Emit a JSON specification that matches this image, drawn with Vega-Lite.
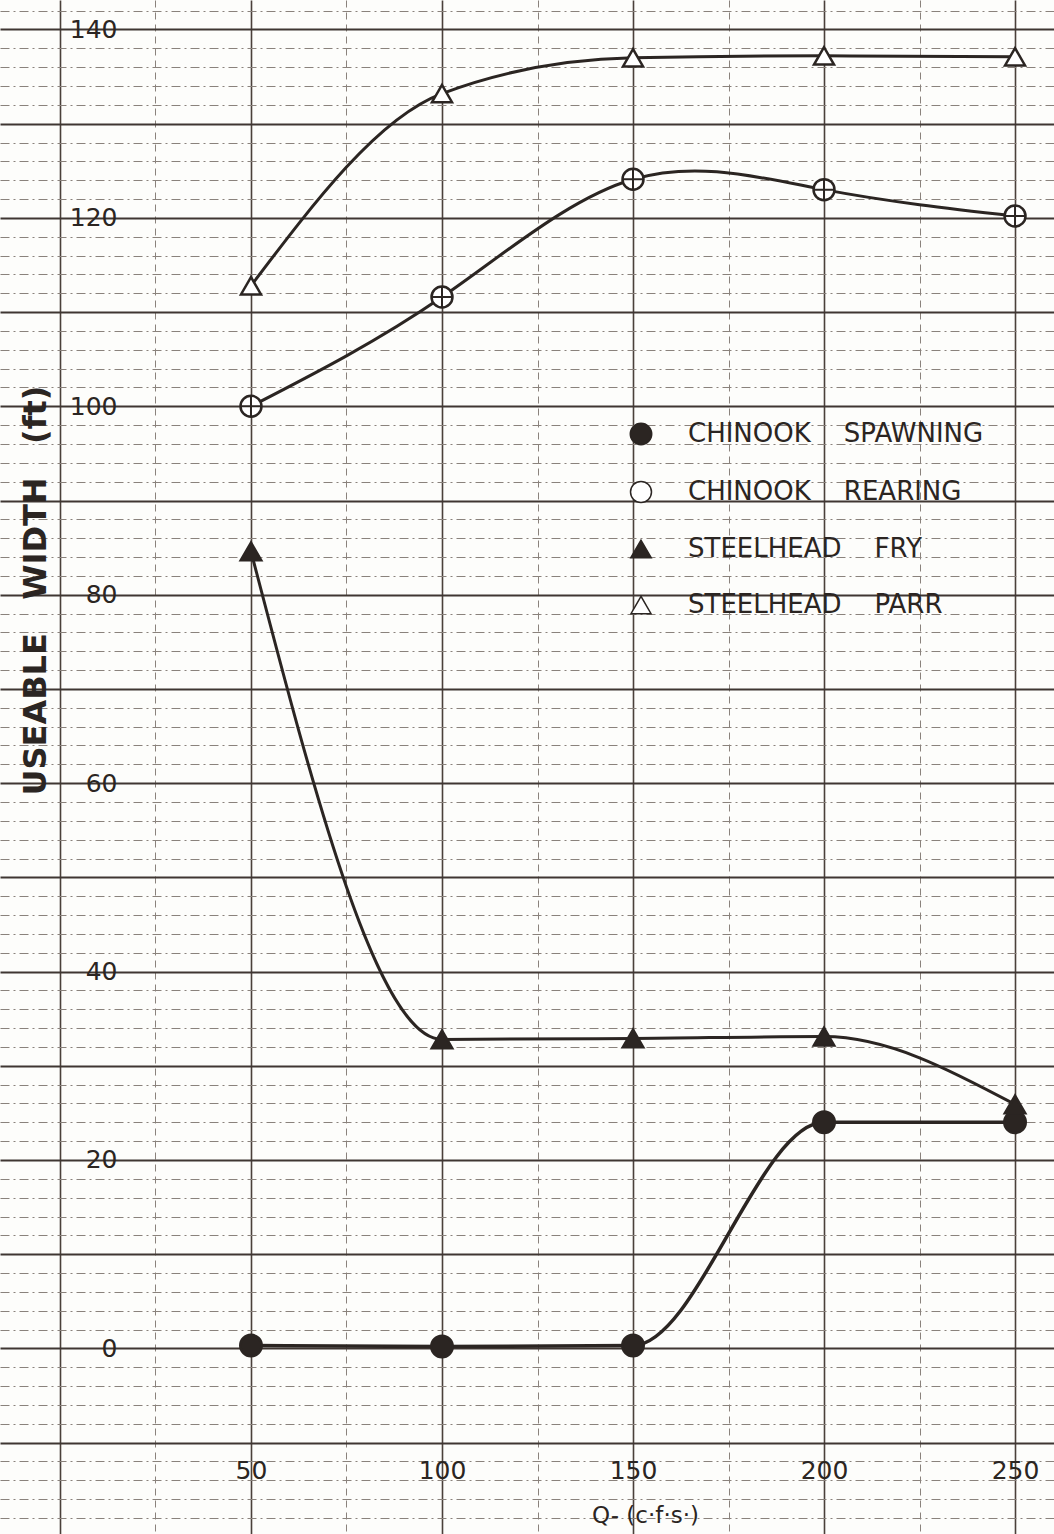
{
  "$schema": "https://vega.github.io/schema/vega-lite/v6.json",
  "width": 1054,
  "height": 1534,
  "padding": 0,
  "autosize": {"type": "none"},
  "background": "#fdfdfb",
  "config": {"view": {"stroke": null}, "font": "DejaVu Sans"},
  "data": {
    "values": [
      {"q": 50, "w": 0.3, "series": "CHINOOK SPAWNING"},
      {"q": 100, "w": 0.2, "series": "CHINOOK SPAWNING"},
      {"q": 150, "w": 0.3, "series": "CHINOOK SPAWNING"},
      {"q": 200, "w": 24.0, "series": "CHINOOK SPAWNING"},
      {"q": 250, "w": 24.0, "series": "CHINOOK SPAWNING"},
      {"q": 50, "w": 100.0, "series": "CHINOOK REARING"},
      {"q": 100, "w": 111.6, "series": "CHINOOK REARING"},
      {"q": 150, "w": 124.1, "series": "CHINOOK REARING"},
      {"q": 200, "w": 123.0, "series": "CHINOOK REARING"},
      {"q": 250, "w": 120.2, "series": "CHINOOK REARING"},
      {"q": 50, "w": 84.6, "series": "STEELHEAD FRY"},
      {"q": 100, "w": 32.8, "series": "STEELHEAD FRY"},
      {"q": 150, "w": 32.9, "series": "STEELHEAD FRY"},
      {"q": 200, "w": 33.1, "series": "STEELHEAD FRY"},
      {"q": 250, "w": 25.9, "series": "STEELHEAD FRY"},
      {"q": 50, "w": 112.8, "series": "STEELHEAD PARR"},
      {"q": 100, "w": 133.2, "series": "STEELHEAD PARR"},
      {"q": 150, "w": 137.0, "series": "STEELHEAD PARR"},
      {"q": 200, "w": 137.2, "series": "STEELHEAD PARR"},
      {"q": 250, "w": 137.1, "series": "STEELHEAD PARR"}
    ]
  },
  "encoding": {
    "x": {
      "field": "q",
      "type": "quantitative",
      "scale": {"domain": [-15.7, 260.2], "nice": false, "zero": false},
      "axis": {
        "values": [0, 25, 50, 75, 100, 125, 150, 175, 200, 225, 250],
        "domain": false,
        "ticks": false,
        "tickSize": 0,
        "labelPadding": -64,
        "labelBaseline": "middle",
        "labelFontSize": 25,
        "labelFont": "DejaVu Sans",
        "labelColor": "#2b2522",
        "labelFlush": false,
        "labelOverlap": false,
        "labelExpr": "datum.value >= 50 && datum.value % 50 === 0 ? datum.label : ''",
        "grid": true,
        "gridColor": {"condition": {"test": "datum.value % 50 === 0", "value": "#4a403a"}, "value": "#8a827c"},
        "gridWidth": {"condition": {"test": "datum.value % 50 === 0", "value": 1.6}, "value": 1},
        "gridDash": {"condition": {"test": "datum.value % 50 === 0", "value": []}, "value": [7, 5]},
        "title": "Q- (c·f·s·)",
        "titleFont": "DejaVu Sans",
        "titleFontSize": 23,
        "titleFontWeight": "normal",
        "titleColor": "#2b2522",
        "titleX": 645,
        "titleY": -19,
        "titleAlign": "center",
        "titleBaseline": "middle"
      }
    },
    "y": {
      "field": "w",
      "type": "quantitative",
      "scale": {"domain": [-19.7, 143.13], "nice": false, "zero": false},
      "axis": {
        "values": [-18, -16, -14, -12, -10, -8, -6, -4, -2, 0, 2, 4, 6, 8, 10, 12, 14, 16, 18, 20, 22, 24, 26, 28, 30, 32, 34, 36, 38, 40, 42, 44, 46, 48, 50, 52, 54, 56, 58, 60, 62, 64, 66, 68, 70, 72, 74, 76, 78, 80, 82, 84, 86, 88, 90, 92, 94, 96, 98, 100, 102, 104, 106, 108, 110, 112, 114, 116, 118, 120, 122, 124, 126, 128, 130, 132, 134, 136, 138, 140, 142],
        "domain": false,
        "ticks": false,
        "tickSize": 0,
        "labelPadding": -117,
        "labelAlign": "right",
        "labelBaseline": "middle",
        "labelFontSize": 25,
        "labelFont": "DejaVu Sans",
        "labelColor": "#2b2522",
        "labelFlush": false,
        "labelOverlap": false,
        "labelExpr": "datum.value >= 0 && datum.value % 20 === 0 ? datum.label : ''",
        "grid": true,
        "gridColor": {"condition": {"test": "datum.value % 10 === 0", "value": "#3f3632"}, "value": "#8a827c"},
        "gridWidth": {"condition": {"test": "datum.value % 10 === 0", "value": 2}, "value": 1},
        "gridDash": {"condition": {"test": "datum.value % 10 === 0", "value": []}, "value": [9, 4, 2, 4]},
        "title": "USEABLE\u00a0\u00a0\u00a0WIDTH\u00a0\u00a0\u00a0(ft)",
        "titleFont": "DejaVu Sans",
        "titleFontSize": 32,
        "titleFontWeight": "bold",
        "titleColor": "#2b2522",
        "titleAngle": -90,
        "titleX": 35,
        "titleY": 590,
        "titleAlign": "center",
        "titleBaseline": "middle"
      }
    }
  },
  "layer": [
    {
      "transform": [{"filter": "datum.series === 'CHINOOK SPAWNING'"}],
      "mark": {"type": "line", "interpolate": "monotone", "stroke": "#2b2522", "strokeWidth": 3.5},
      "encoding": {}
    },
    {
      "transform": [{"filter": "datum.series === 'CHINOOK REARING'"}],
      "mark": {"type": "line", "interpolate": "natural", "stroke": "#2b2522", "strokeWidth": 3},
      "encoding": {}
    },
    {
      "transform": [{"filter": "datum.series === 'STEELHEAD FRY' || datum.series === 'STEELHEAD PARR'"}],
      "mark": {"type": "line", "interpolate": "monotone", "stroke": "#2b2522", "strokeWidth": 3},
      "encoding": {"detail": {"field": "series", "type": "nominal"}}
    },
    {
      "mark": {"type": "point", "filled": true, "stroke": "#2b2522", "strokeWidth": 2.5, "opacity": 1},
      "encoding": {
        "shape": {
          "field": "series", "type": "nominal",
          "scale": {"domain": ["CHINOOK SPAWNING", "CHINOOK REARING", "STEELHEAD FRY", "STEELHEAD PARR"], "range": ["circle", "circle", "triangle-up", "triangle-up"]},
          "legend": {"title": null, "orient": "none", "legendX": 628, "legendY": 421, "padding": 0, "labelFontSize": 26, "labelFont": "DejaVu Sans", "labelColor": "#2b2522", "labelOffset": 34, "rowPadding": 30, "labelLimit": 500, "labelExpr": "replace(datum.label, ' ', '\u00a0\u00a0\u00a0\u00a0')", "encode": {"symbols": {"update": {"stroke": {"value": "#2b2522"}, "strokeWidth": {"value": 2.5}}}}}
        },
        "fill": {
          "field": "series", "type": "nominal",
          "scale": {"domain": ["CHINOOK SPAWNING", "CHINOOK REARING", "STEELHEAD FRY", "STEELHEAD PARR"], "range": ["#2b2522", "#ffffff", "#2b2522", "#ffffff"]},
          "legend": {"title": null, "orient": "none", "legendX": 628, "legendY": 421, "padding": 0, "labelFontSize": 26, "labelFont": "DejaVu Sans", "labelColor": "#2b2522", "labelOffset": 34, "rowPadding": 30, "labelLimit": 500, "labelExpr": "replace(datum.label, ' ', '\u00a0\u00a0\u00a0\u00a0')", "encode": {"symbols": {"update": {"stroke": {"value": "#2b2522"}, "strokeWidth": {"value": 2.5}}}}}
        },
        "size": {
          "field": "series", "type": "nominal",
          "scale": {"domain": ["CHINOOK SPAWNING", "CHINOOK REARING", "STEELHEAD FRY", "STEELHEAD PARR"], "range": [460, 400, 600, 600]},
          "legend": {"title": null, "orient": "none", "legendX": 628, "legendY": 421, "padding": 0, "labelFontSize": 26, "labelFont": "DejaVu Sans", "labelColor": "#2b2522", "labelOffset": 34, "rowPadding": 30, "labelLimit": 500, "labelExpr": "replace(datum.label, ' ', '\u00a0\u00a0\u00a0\u00a0')", "encode": {"symbols": {"update": {"stroke": {"value": "#2b2522"}, "strokeWidth": {"value": 2.5}}}}}
        }
      }
    },
    {
      "transform": [{"filter": "datum.series === 'CHINOOK REARING'"}],
      "mark": {"type": "point", "shape": "M-1,0H1M0,-1V1", "size": 400, "filled": false, "stroke": "#2b2522", "strokeWidth": 2, "opacity": 1},
      "encoding": {}
    }
  ]
}
